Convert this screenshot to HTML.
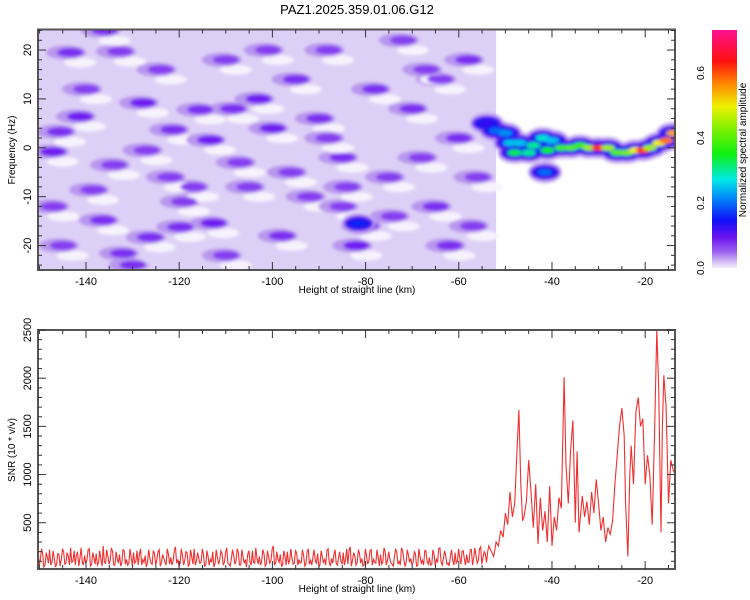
<!DOCTYPE html>
<html><head><meta charset="utf-8"><style>
html,body{margin:0;padding:0;background:#fff}
svg{display:block;font-family:"Liberation Sans",sans-serif}
</style></head><body>
<svg id="chart" width="750" height="600" viewBox="0 0 750 600" xmlns="http://www.w3.org/2000/svg">
<defs>
<filter id="blur" x="-20%" y="-20%" width="140%" height="140%"><feGaussianBlur stdDeviation="1.6"/></filter>
<clipPath id="topclip"><rect x="38" y="29.5" width="637" height="240.5"/></clipPath>
<clipPath id="botclip"><rect x="38" y="330" width="637" height="239"/></clipPath>
<linearGradient id="cbar" x1="0" y1="1" x2="0" y2="0">
<stop offset="0" stop-color="#f2ecfc"/><stop offset="0.02" stop-color="#dccbf6"/><stop offset="0.07" stop-color="#9a5ff0"/>
<stop offset="0.13" stop-color="#6a14f0"/><stop offset="0.2" stop-color="#1010f8"/><stop offset="0.3" stop-color="#0090f8"/>
<stop offset="0.37" stop-color="#00e8e8"/><stop offset="0.48" stop-color="#10f010"/><stop offset="0.6" stop-color="#90f000"/>
<stop offset="0.68" stop-color="#f0f000"/><stop offset="0.78" stop-color="#ff8000"/><stop offset="0.87" stop-color="#ff1010"/>
<stop offset="1" stop-color="#ff1090"/></linearGradient>
</defs>
<text x="357" y="14" font-size="13" text-anchor="middle">PAZ1.2025.359.01.06.G12</text>
<g id="top"></g>
<g id="bot"></g>
<g id="cb"></g>
</svg>
<script>
// ---- data ----
const noiseBlobKm = [-147.1,-141.3,-145.6,-143.4,-132.7,-127.8,-121.3,-113.4,-112.7,-119.8,-136.4,-132.1,-147,-115.5,-108.5,-138.5,-126.3,-134,-119,-127,-100,-95,-90,-85,-80,-82,-75,-70,-65,-60,-58,-88,-105,-98,-72,-62,-78,-92,-68,-103,-56,-110,-85,-140,-124,-145,-130,-117,-107,-96,-74,-64,-57,-88,-110,-136,-122,-101,-84,-67];
const noiseBlobHz = [-0.8,6.4,3.3,19.5,19.7,9.2,3.7,1.6,-15.4,-16.2,-14.8,-21.6,-12,7.8,8,-8.6,-18.3,-3.5,-11,-0.5,4,14,6,-2,-16,-20,-6,8,-12,2,18,20,-8,-18,22,-20,12,-10,-2,10,-6,18,-12,12,16,-20,-24,-8,-3,-5,-14,14,-16,2,-22,24,-6,20,-8,16];
const noiseBlobAmp = [0.09,0.09,0.08,0.08,0.07,0.09,0.08,0.09,0.09,0.08,0.08,0.08,0.07,0.08,0.08,0.07,0.08,0.07,0.07,0.07,0.09,0.08,0.08,0.08,0.08,0.09,0.07,0.08,0.08,0.08,0.08,0.07,0.07,0.08,0.07,0.08,0.08,0.07,0.07,0.09,0.07,0.07,0.07,0.07,0.07,0.07,0.08,0.07,0.07,0.07,0.07,0.07,0.07,0.07,0.07,0.08,0.07,0.07,0.07,0.07];
const bandKm = [-54,-52,-50,-49,-48,-47,-45,-44,-42,-41,-40,-38,-36,-34,-32,-30,-28,-26,-24,-22,-20.5,-19,-17,-15.5,-14,-41.5,-81.5];
const bandHz = [5,3.5,3,1,-1,1,-1,0.5,2,-0.5,1.5,0,0,0.5,0,0,0,-1,-1,-0.5,-0.5,0,1,1.5,3,-5,-15.5];
const bandAmp = [0.13,0.2,0.22,0.25,0.33,0.25,0.3,0.3,0.28,0.35,0.25,0.38,0.4,0.38,0.45,0.62,0.45,0.4,0.42,0.5,0.62,0.45,0.5,0.58,0.55,0.2,0.16];
const xTicks = [-140,-120,-100,-80,-60,-40,-20];
const freqTicks = [-20,-10,0,10,20];
const snrTicks = [500,1000,1500,2000,2500];
const cbTicks = [0.0,0.2,0.4,0.6];
const noiseStartKm = -150.3, noiseStepKm = 0.5;
const noiseValues = [260,110,180,60,140,220,90,130,70,170,120,200,80,150,240,100,60,190,130,90,160,110,230,70,140,180,90,120,260,80,150,110,200,60,130,170,90,210,120,80,140,190,100,60,230,120,160,90,140,70,180,110,220,90,130,60,170,140,100,250,120,80,160,110,190,70,140,230,100,130,90,170,60,150,120,200,80,140,110,180,90,240,70,130,160,100,190,60,150,120,170,90,210,80,130,150,100,180,70,140,110,260,90,120,170,60,150,200,100,130,80,190,120,90,160,70,230,110,140,100,180,60,150,120,210,90,130,170,80,140,100,190,120,70,250,110,150,90,180,130,60,160,100,220,120,80,140,170,90,200,110,130,70,150,190,100,240,120,80,160,130,90,180,60,150,110,210,100,140,70,170,120,230,90,130,160,80,150,110,190,100,140,200,120,170,90,220,130,160,110,250,140,180,200];
const noiseValuesMid = [50,230,40,190,80,60,210,40,180,50,230,70,190,60,90,210,170,50,240,60,80,220,50,190,70,60,210,50,90,220,70,240,60,200,80,50,220,70,60,230,50,80,210,170,60,90,40,220,80,210,60,200,50,170,90,230,70,60,210,80,50,230,60,200,50,220,70,60,190,80,230,50,210,60,90,40,220,70,210,60,190,80,50,220,70,230,60,220,80,40,210,60,90,240,70,60,220,50,210,80,230,60,200,90,50,210,60,80,230,70,210,60,80,220,50,200,70,60,220,80,50,210,90,60,230,50,80,220,60,200,70,60,230,210,50,190,60,220,80,50,230,70,210,60,90,220,50,70,240,60,200,80,50,230,70,60,210,50,220,90,60,200,50,230,80,60,210,70,60,220,50,90,240,60,210,70,50,220,60,80,230,70,210,60,90,220,60,240,80,230,70,200,90,260,120];
const sigKm = [-52.5,-52,-51.5,-51,-50.5,-50,-49.5,-49,-48.5,-48,-47.5,-47.1,-46.7,-46.3,-46,-45.5,-45,-44.5,-44,-43.5,-43,-42.5,-42,-41.5,-41,-40.5,-40,-39.5,-39,-38.5,-38,-37.4,-37,-36.5,-36,-35.5,-35,-34.6,-34.2,-33.5,-33,-32.5,-32,-31.5,-31,-30.5,-30,-29.5,-29,-28.5,-28,-27.5,-27,-26.5,-26,-25.5,-25,-24.5,-24.2,-23.7,-23.3,-23,-22.5,-22,-21.5,-21,-20.5,-20,-19.5,-19,-18.5,-18,-17.5,-17.1,-16.6,-16.3,-16,-15.5,-15,-14.5,-14,-13.6];
const sigVal = [150,300,260,420,350,600,480,820,560,700,1250,1670,900,520,560,720,1150,820,450,900,280,760,420,620,300,880,260,560,420,760,650,2010,1100,700,1250,1560,500,1240,400,780,560,720,480,820,600,950,700,420,560,300,450,380,520,900,1200,1500,1690,1400,700,150,1000,1300,900,1650,1800,1500,1580,900,1200,1000,480,1400,2500,1900,400,1500,2030,1700,700,1150,1050,1000];

// ---- scales ----
const T = {L:38,R:675,T:29.5,B:270,x0:-150.3,x1:-13.6,y0:-25,y1:24.2};
const Bt = {L:38,R:675,T:330,B:569,y0:20,y1:2500};
const xs = (km,p) => p.L + (km - T.x0)/(T.x1-T.x0)*(p.R-p.L);
const fy = f => T.B - (f - T.y0)/(T.y1-T.y0)*(T.B-T.T);
const sy = v => Bt.B - (v - Bt.y0)/(Bt.y1-Bt.y0)*(Bt.B-Bt.T);
const NS='http://www.w3.org/2000/svg';
function mk(tag,attrs,parent){const e=document.createElementNS(NS,tag);for(const k in attrs)e.setAttribute(k,attrs[k]);parent.appendChild(e);return e;}
const stops=[[0,[242,236,252]],[0.015,[220,203,246]],[0.05,[154,95,240]],[0.095,[106,20,240]],[0.15,[16,16,248]],[0.22,[0,144,248]],[0.27,[0,232,232]],[0.35,[16,240,16]],[0.44,[144,240,0]],[0.5,[240,240,0]],[0.57,[255,128,0]],[0.64,[255,16,16]],[0.73,[255,16,144]]];
function cmap(a){for(let i=1;i<stops.length;i++){if(a<=stops[i][0]){const[a0,c0]=stops[i-1],[a1,c1]=stops[i];const t=(a-a0)/(a1-a0);return 'rgb('+c0.map((c,j)=>Math.round(c+(c1[j]-c)*t)).join(',')+')';}}return 'rgb(255,16,144)';}

const topG=document.getElementById('top'), botG=document.getElementById('bot'), cbG=document.getElementById('cb');
// spectrogram
const heat=mk('g',{'clip-path':'url(#topclip)'},topG);


const bg=mk('rect',{x:T.L,y:T.T,width:xs(-52,T)-T.L,height:T.B-T.T,fill:'#ddd0f6'},heat);


const blobs=mk('g',{filter:'url(#blur)'},heat);
for(let i=0;i<noiseBlobKm.length;i++){
  const cx=xs(noiseBlobKm[i],T), cy=fy(noiseBlobHz[i]);
  mk('ellipse',{cx:cx+10,cy:cy+10,rx:16,ry:5,fill:'#f7f3fd'},blobs);
  mk('ellipse',{cx:cx-4,cy:cy,rx:20,ry:7,fill:'#b896ee'},blobs);
}
for(let i=0;i<noiseBlobKm.length;i++){
  const e=mk('ellipse',{cx:xs(noiseBlobKm[i],T),cy:fy(noiseBlobHz[i]),rx:13,ry:4.5,fill:cmap(noiseBlobAmp[i])},blobs);
  
  
}
const band=mk('g',{filter:'url(#blur)'},heat);
for(let i=0;i<bandKm.length;i++){const cx=xs(bandKm[i],T),cy=fy(bandHz[i]);mk('ellipse',{cx:cx,cy:cy,rx:17,ry:11,fill:'#c8aef2'},band);}
for(let i=0;i<bandKm.length;i++){const cx=xs(bandKm[i],T),cy=fy(bandHz[i]);mk('ellipse',{cx:cx,cy:cy,rx:15,ry:8,fill:'#6a20ee'},band);}
for(let i=0;i<bandKm.length;i++){const cx=xs(bandKm[i],T),cy=fy(bandHz[i]);mk('ellipse',{cx:cx,cy:cy,rx:12,ry:5.5,fill:'#1818f0'},band);}
for(let i=0;i<bandKm.length;i++){
  const cx=xs(bandKm[i],T),cy=fy(bandHz[i]);
  const e=mk('ellipse',{cx:cx,cy:cy,rx:7,ry:3.2,fill:cmap(bandAmp[i])},band);
  
  
}
// frames & ticks
function frame(p,g,name){const r=mk('rect',{x:p.L,y:p.T,width:p.R-p.L,height:p.B-p.T,fill:'none',stroke:'#555',"stroke-width":2},g);}
function xaxis(p,g,ly,titleY){
  for(let k=-150;k<=-14;k+=5){const x=xs(k,p);const big=k%20===0;const len=big?8:4;
    mk('line',{x1:x,y1:p.T,x2:x,y2:p.T+len,stroke:'#333'},g);mk('line',{x1:x,y1:p.B,x2:x,y2:p.B-len,stroke:'#333'},g);}
  xTicks.forEach(k=>{const t=mk('text',{x:xs(k,p),y:ly,'font-size':11,'text-anchor':'middle'},g);t.textContent=k;});
  const t=mk('text',{x:357,y:titleY,'font-size':10,'text-anchor':'middle'},g);t.textContent='Height of straight line (km)';
  
}
frame(T,topG,'spectrogram-frame');
xaxis(T,topG,285,293);
for(let f=-24;f<=24;f+=2){const y=fy(f);const len=f%10===0?8:4;mk('line',{x1:T.L,y1:y,x2:T.L+len,y2:y,stroke:'#333'},topG);mk('line',{x1:T.R,y1:y,x2:T.R-len,y2:y,stroke:'#333'},topG);}
freqTicks.forEach(f=>{const y=fy(f);const t=mk('text',{x:0,y:0,'font-size':11,'text-anchor':'middle',transform:`translate(31,${y}) rotate(-90)`},topG);t.textContent=f;});
{const t=mk('text',{x:0,y:0,'font-size':10,'text-anchor':'middle',transform:'translate(15,150) rotate(-90)'},topG);t.textContent='Frequency (Hz)';}

// SNR panel
const pts=[];
noiseValues.forEach((v,i)=>{pts.push([noiseStartKm+i*noiseStepKm,v]);if(i<noiseValuesMid.length)pts.push([noiseStartKm+(i+0.5)*noiseStepKm,noiseValuesMid[i]]);});
sigKm.forEach((k,i)=>pts.push([k,sigVal[i]]));
const pl=mk('polyline',{points:pts.map(p=>xs(p[0],Bt).toFixed(1)+','+sy(p[1]).toFixed(1)).join(' '),fill:'none',stroke:'#f03030','stroke-width':1.1,'clip-path':'url(#botclip)'},botG);


frame(Bt,botG,'snr-frame');
xaxis(Bt,botG,584,592);
for(let v=100;v<=2500;v+=100){const y=sy(v);const len=v%500===0?8:4;mk('line',{x1:Bt.L,y1:y,x2:Bt.L+len,y2:y,stroke:'#333'},botG);mk('line',{x1:Bt.R,y1:y,x2:Bt.R-len,y2:y,stroke:'#333'},botG);}
snrTicks.forEach(v=>{const t=mk('text',{x:0,y:0,'font-size':11,'text-anchor':'middle',transform:`translate(31,${sy(v)}) rotate(-90)`},botG);t.textContent=v;});
{const t=mk('text',{x:0,y:0,'font-size':10,'text-anchor':'middle',transform:'translate(15,450) rotate(-90)'},botG);t.textContent='SNR (10 * v/v)';}

// colorbar
const cbScale=v=>268-v/0.2*65;
{const r=mk('rect',{x:712,y:30,width:25,height:238,fill:'url(#cbar)'},cbG);}
cbTicks.forEach(v=>{const t=mk('text',{x:0,y:0,'font-size':10,'text-anchor':'middle',transform:`translate(704,${cbScale(v)}) rotate(-90)`},cbG);t.textContent=v.toFixed(1);});
{const t=mk('text',{x:0,y:0,'font-size':10,'text-anchor':'middle',transform:'translate(746,150) rotate(-90)'},cbG);t.textContent='Normalized spectral amplitude';}
</script>
</body></html>
